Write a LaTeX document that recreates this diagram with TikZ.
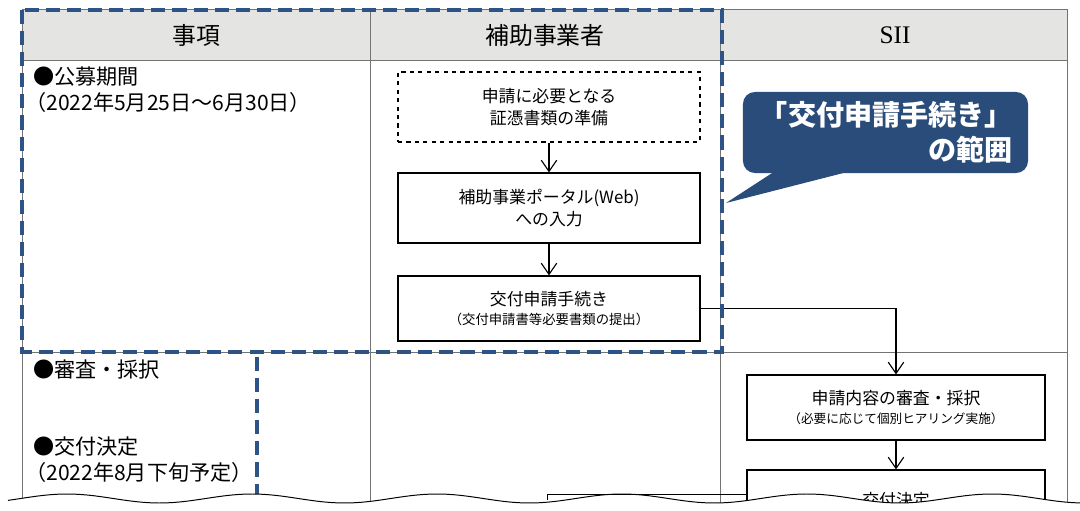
\documentclass[tikz,border=0pt]{standalone}
\usepackage{fontspec}
\setmainfont{Noto Sans CJK JP}
\newfontfamily\siifont{Liberation Serif}
\usetikzlibrary{arrows.meta}
\definecolor{rangeblue}{HTML}{2E5386}
\definecolor{calloutblue}{HTML}{294C7A}
\definecolor{headgray}{HTML}{E4E4E2}

\begin{document}
\begin{tikzpicture}
    [
    x=0.025cm, y=-0.025cm,
    gridline/.style={
      draw=black!55,
      line width=0.6pt
    },
    rangeline/.style={
      draw=rangeblue,
      line width=2.8pt,
      dash pattern=on 10pt off 5pt
    },
    stepbox/.style={
      draw,
      line width=0.8pt,
      align=center,
      minimum width=7.55cm,
      minimum height=1.75cm,
      inner sep=0pt,
      font=\fontsize{12}{15.5}\selectfont
    },
    flow/.style={
      -{Straight Barb[length=8pt,width=11pt]},
      line width=0.8pt
    },
    itemtext/.style={
      anchor=west,
      inner sep=0pt,
      font=\fontsize{15}{17}\selectfont
    },
    headtext/.style={
      font=\fontsize{17}{20}\selectfont
    },
    callout/.style={
      fill=calloutblue,
      rounded corners=0.3cm,
      minimum width=7.125cm,
      minimum height=2.025cm,
      text width=6.375cm,
      inner xsep=0.375cm,
      align=right,
      text=white,
      font=\bfseries\fontsize{20}{25}\selectfont
    }
    ]
    \useasboundingbox (0,0) rectangle (1080,511);

    % table
    \fill[headgray] (22,9) rectangle (1067,60);
    \draw[gridline] (22,9) -- (1067,9);
    \draw[gridline] (22,60) -- (1067,60);
    \draw[gridline] (22,352) -- (1067,352);
    \foreach \cx in {22,370,720,1067}
      \draw[gridline] (\cx,9) -- (\cx,511);

    \node (colitem) at (196,35) [headtext] {事項};
    \node (colbiz) at (545,35) [headtext] {補助事業者};
    \node (colsii) at (895,35) [headtext] {\siifont\fontsize{18}{20}\selectfont SII};

    \node (recruit) at (33,77) [itemtext] {●公募期間};
    \node (recruitdate) at (25,102) [itemtext] {（2022年5月25日～6月30日）};
    \node (screening) at (33,370) [itemtext] {●審査・採択};
    \node (grant) at (33,447) [itemtext] {●交付決定};
    \node (grantdate) at (25,472) [itemtext] {（2022年8月下旬予定）};

    % flow
    \node (prep) at (549,107) [stepbox, dashed] {申請に必要となる\\証憑書類の準備};
    \node (portal) at (549,208) [stepbox] {補助事業ポータル(Web)\\への入力};
    \node (apply) at (549,308.5) [stepbox, minimum height=1.625cm, font=\fontsize{12}{14}\selectfont]
      {交付申請手続き\\{\fontsize{9.5}{14}\selectfont（交付申請書等必要書類の提出）}};
    \node (review) at (896,407.5) [stepbox, minimum width=7.45cm, minimum height=1.625cm, font=\fontsize{12}{14}\selectfont]
      {申請内容の審査・採択\\{\fontsize{9}{14}\selectfont（必要に応じて個別ヒアリング実施）}};
    \node (decide) at (896,500) [stepbox, minimum width=7.45cm, minimum height=1.5cm] {交付決定};

    \draw[flow] (prep) -- (portal);
    \draw[flow] (portal) -- (apply);
    \draw[flow] (apply.east) -| (review.north);
    \draw[flow] (review) -- (decide);

    % range of the procedure
    \draw[rangeline] (22,10) rectangle (722,352);
    \draw[rangeline] (257,357) -- (257,500);

    \node (scope) at (885.5,132.5) [callout] {「交付申請手続き」\\の範囲\hspace{0.9em}};
    \coordinate (tip) at (726,203);
    \fill[calloutblue] ([xshift=-2.69cm,yshift=0.1cm]scope.south) -- (tip)
      -- ([xshift=-0.69cm,yshift=0.1cm]scope.south) -- cycle;

    % break
    \fill[white] plot[domain=0:1080, samples=150] (\x, {498.5-4.5*cos((\x-67)*1.946)})
      -- (1080,511) -- (0,511) -- cycle;
    \draw[line width=0.7pt] plot[domain=8:1080, samples=150] (\x, {498.5-4.5*cos((\x-67)*1.946)});
    \draw[line width=0.7pt] (547,500) -- (547,494) -- (747,494);
  \end{tikzpicture}
\end{document}
